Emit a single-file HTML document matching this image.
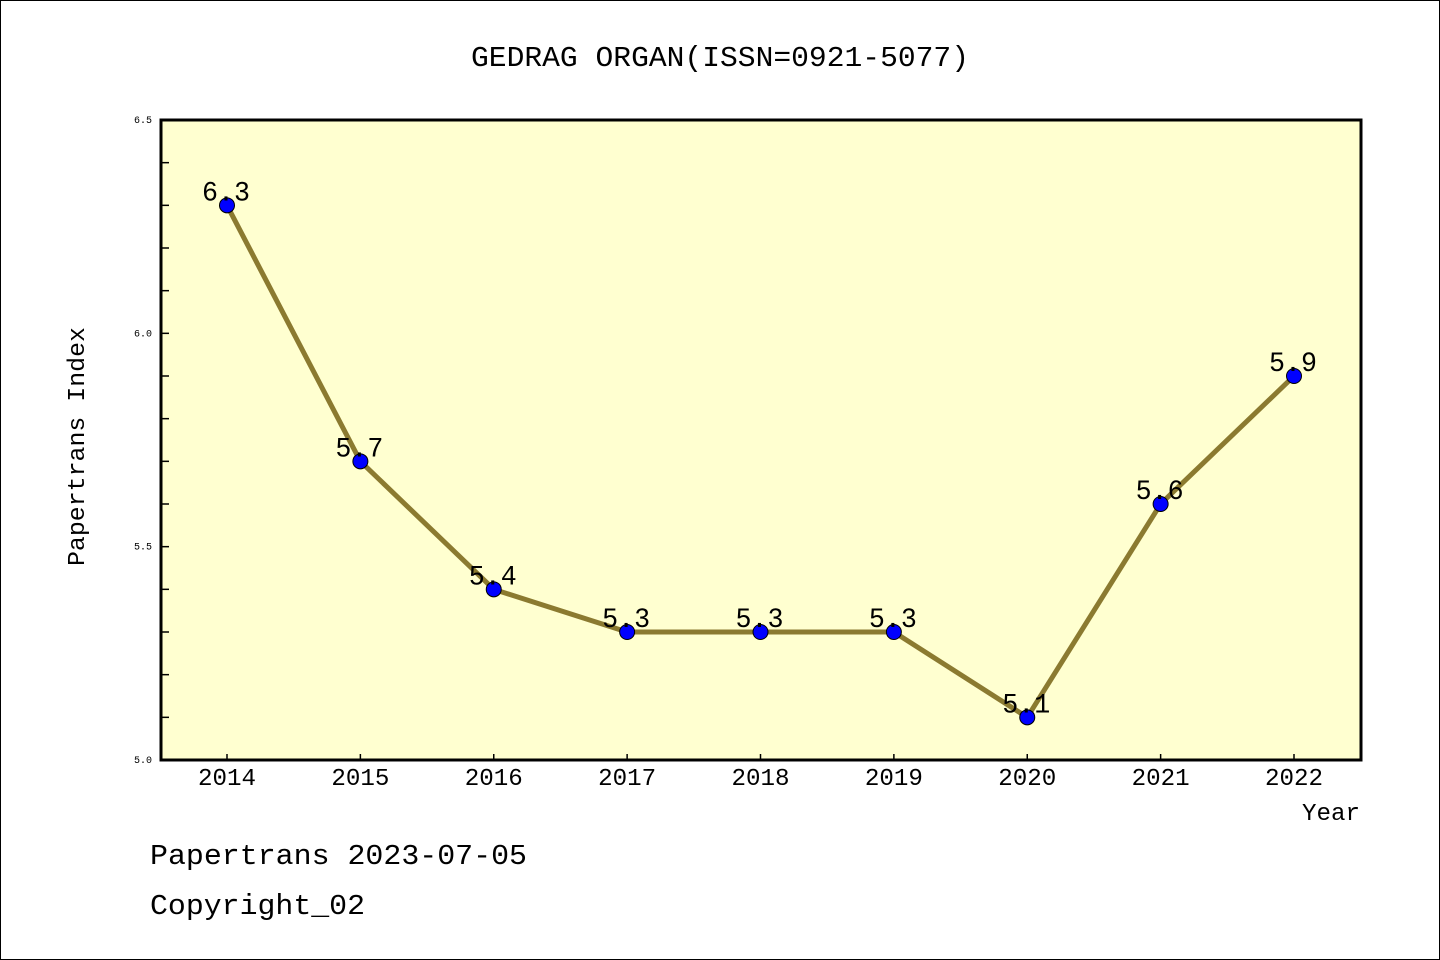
<!DOCTYPE html>
<html><head><meta charset="utf-8"><style>
html,body{margin:0;padding:0;background:#fff}
svg{display:block}
text{font-family:"Liberation Mono","WenQuanYi Zen Hei Mono",monospace}
</style></head><body>
<svg width="1440" height="960" viewBox="0 0 1440 960">
<rect x="0.5" y="0.5" width="1439" height="959" fill="#fff" stroke="#000"/>
<text x="471" y="66" font-size="29" textLength="498" lengthAdjust="spacingAndGlyphs">GEDRAG ORGAN(ISSN=0921-5077)</text>
<rect x="161" y="120" width="1200" height="640" fill="#ffffd0"/>
<g id="axes"></g>
<g id="marks"></g>
<rect x="161" y="120" width="1200" height="640" fill="none" stroke="#000" stroke-width="3"/>
<text x="0" y="0" font-size="24" textLength="239" lengthAdjust="spacingAndGlyphs" transform="translate(84 566) rotate(-90)">Papertrans Index</text>
<text x="1302" y="820" font-size="24" textLength="58" lengthAdjust="spacingAndGlyphs">Year</text>
<text x="150" y="864" font-size="29" textLength="377" lengthAdjust="spacingAndGlyphs">Papertrans 2023-07-05</text>
<text x="150" y="914" font-size="29" textLength="215" lengthAdjust="spacingAndGlyphs">Copyright_02</text>
</svg>
<script>
const years = ["2014","2015","2016","2017","2018","2019","2020","2021","2022"];
const values = [6.3,5.7,5.4,5.3,5.3,5.3,5.1,5.6,5.9];
const valueLabels = ["6.3","5.7","5.4","5.3","5.3","5.3","5.1","5.6","5.9"];
const yTickLabels = ["5.0","5.5","6.0","6.5"];
const yMin = 5.0, yMax = 6.5;
const NS = "http://www.w3.org/2000/svg";
function xs(i){return 227 + i*(1294-227)/(years.length-1);}
function ys(v){return 760 - (v-yMin)/(yMax-yMin)*640;}
function mk(tag, attrs, parent){const e=document.createElementNS(NS,tag);for(const k in attrs)e.setAttribute(k,attrs[k]);parent.appendChild(e);return e;}
const axes=document.getElementById('axes'), marks=document.getElementById('marks');
for(let k=0;k<=15;k++){
  const v=yMin+k*0.1, y=ys(v);
  const t=mk('line',{x1:161,x2:169,y1:y,y2:y,stroke:'#000','stroke-width':1.5},axes);
  
  
}
yTickLabels.forEach(l=>{
  const t=mk('text',{x:152,y:ys(parseFloat(l))+3,'font-size':10,'text-anchor':'end'},axes);
  t.textContent=l;
  
  
});
years.forEach((yr,i)=>{
  const x=xs(i);
  const t=mk('line',{x1:x,x2:x,y1:760,y2:754,stroke:'#000','stroke-width':1.5},axes);
  
  
  const l=mk('text',{x:x-29,y:785,'font-size':24,textLength:58,lengthAdjust:'spacingAndGlyphs'},axes);
  l.textContent=yr;
  
  
});
const pl=mk('polyline',{points:values.map((v,i)=>xs(i)+','+ys(v)).join(' '),fill:'none',stroke:'#8b7a30','stroke-width':5},marks);


values.forEach((v,i)=>{
  const c=mk('circle',{cx:xs(i),cy:ys(v),r:7.5,fill:'#0000ff',stroke:'#000','stroke-width':1},marks);
  
  
  const t=mk('text',{x:xs(i)-25,y:ys(v)-5,'font-size':28,textLength:48,lengthAdjust:'spacingAndGlyphs'},marks);
  t.textContent=valueLabels[i];
  
  
});
</script>
</body></html>
